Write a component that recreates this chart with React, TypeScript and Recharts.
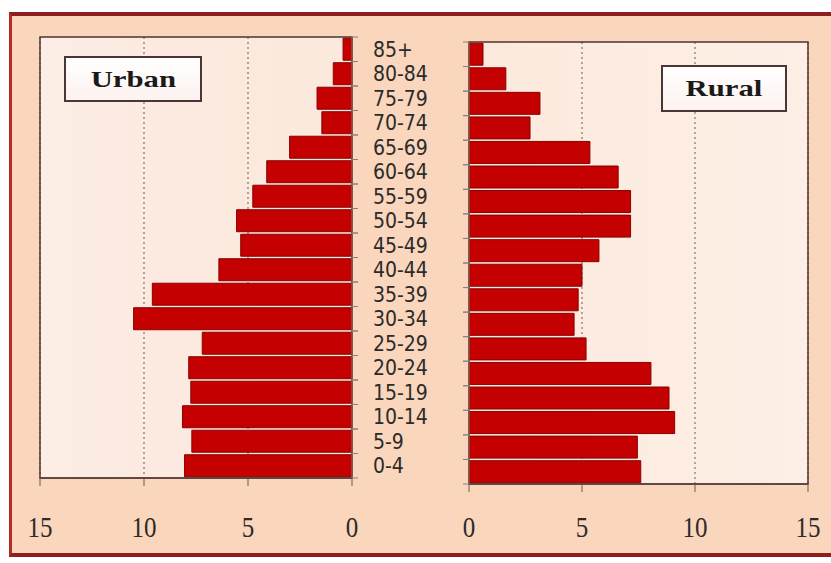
import React from 'react';
import { BarChart, Bar, XAxis, YAxis, CartesianGrid, ReferenceArea } from 'recharts';

const ageGroups = ['0-4', '5-9', '10-14', '15-19', '20-24', '25-29', '30-34', '35-39', '40-44', '45-49', '50-54', '55-59', '60-64', '65-69', '70-74', '75-79', '80-84', '85+'];
const urbanValues = [8.05, 7.7, 8.15, 7.75, 7.85, 7.2, 10.5, 9.6, 6.4, 5.35, 5.55, 4.77, 4.1, 3.0, 1.45, 1.68, 0.9, 0.43];
const ruralValues = [7.6, 7.45, 9.1, 8.85, 8.05, 5.18, 4.65, 4.83, 5.0, 5.75, 7.15, 7.15, 6.6, 5.35, 2.7, 3.14, 1.63, 0.62];
const xTicks = [0, 5, 10, 15];
const panelTitles = ['Urban', 'Rural'];

const data = ageGroups.map((age, i) => ({ age, urban: urbanValues[i], rural: ruralValues[i] }));

const BAR_FILL = '#C40000';
const BAR_STROKE = '#8A0000';
const AXIS_GRAY = '#8a7f78';
const BORDER = '#4d3530';

const NumTick = (props: any) => {
  const { x, y, payload, baseOff } = props;
  return (
    <g transform={`translate(${x},${y + baseOff}) scale(1,1.15)`}>
      <text
        x={0}
        y={0}
        textAnchor="middle"
        fontFamily="'Liberation Serif','Times New Roman',serif"
        fontSize={25}
        fill="#2e2a28"
      >
        {payload.value}
      </text>
    </g>
  );
};

const AgeTickRight = (props: any) => {
  const { x, y, payload } = props;
  const off = payload.offset ?? 12.25;
  return (
    <g>
      <line x1={x} x2={x + 6} y1={y - off} y2={y - off} stroke={AXIS_GRAY} />
      <line x1={x} x2={x + 6} y1={y + off} y2={y + off} stroke={AXIS_GRAY} />
      <text
        x={x + 21}
        y={y}
        dy="0.36em"
        textAnchor="start"
        fontFamily="'DejaVu Sans Condensed','DejaVu Sans',sans-serif"
        fontStretch="condensed"
        fontSize={21}
        fill="#2b2b2b"
      >
        {payload.value}
      </text>
    </g>
  );
};

const AgeTickLeft = (props: any) => {
  const { x, y, payload } = props;
  const off = payload.offset ?? 12.25;
  return (
    <g>
      <line x1={x - 6} x2={x} y1={y - off} y2={y - off} stroke={AXIS_GRAY} />
      <line x1={x - 6} x2={x} y1={y + off} y2={y + off} stroke={AXIS_GRAY} />
    </g>
  );
};

const boxStyle: React.CSSProperties = {
  position: 'absolute',
  boxSizing: 'border-box',
  border: '2px solid #4a3636',
  background: 'linear-gradient(#ffffff, #fdf2ef)',
  fontFamily: "'Liberation Serif','Times New Roman',serif",
  fontWeight: 'bold',
  fontSize: 24,
  color: '#1a1a1a',
  display: 'flex',
  alignItems: 'center',
  justifyContent: 'center',
};

const titleSpan: React.CSSProperties = {
  display: 'inline-block',
  transform: 'scaleX(1.28)',
};

export default function App() {
  return (
    <div style={{ position: 'absolute', left: 0, top: 0, width: 831, height: 563, overflow: 'hidden', background: '#fff' }}>
      <div
        style={{
          position: 'absolute',
          left: 9,
          top: 12,
          width: 860,
          height: 545,
          boxSizing: 'border-box',
          background: '#FAD6BC',
          borderTop: '4px solid #8E1F1F',
          borderLeft: '3px solid #B52A2A',
          borderBottom: '4px solid #8E1F1F',
        }}
      />
      <div style={{ position: 'absolute', left: 0, top: 0 }}>
        <BarChart
          width={440}
          height={545}
          data={data}
          layout="vertical"
          margin={{ top: 37, left: 40, right: 0, bottom: 0 }}
          barCategoryGap="5%"
        >
          <defs>
            <linearGradient id="bgL" x1="0" y1="0" x2="1" y2="0">
              <stop offset="0%" stopColor="#FCEEE6" />
              <stop offset="35%" stopColor="#FCEAE0" />
              <stop offset="100%" stopColor="#FCE9DD" />
            </linearGradient>
          </defs>
          <CartesianGrid horizontal={false} strokeDasharray="2 3" stroke="#6d5a4e" fill="url(#bgL)" fillOpacity={1} />
          <XAxis
            type="number"
            domain={[0, 15]}
            ticks={xTicks}
            reversed
            interval={0}
            height={67}
            tickSize={8}
            tickMargin={0}
            axisLine={{ stroke: '#5a4038', strokeWidth: 1.5 }}
            tickLine={{ stroke: '#6b5a50' }}
            tick={<NumTick baseOff={51} />}
          />
          <YAxis
            type="category"
            dataKey="age"
            orientation="right"
            reversed
            interval={0}
            width={88}
            tickSize={0}
            tickMargin={0}
            axisLine={{ stroke: AXIS_GRAY }}
            tick={<AgeTickRight />}
          />
          <ReferenceArea x1={0} x2={15} fill="none" stroke={BORDER} strokeWidth={1.5} ifOverflow="visible" />
          <Bar dataKey="urban" fill={BAR_FILL} stroke={BAR_STROKE} strokeWidth={1} isAnimationActive={false} />
        </BarChart>
      </div>
      <div style={{ position: 'absolute', left: 460, top: 0 }}>
        <BarChart
          width={371}
          height={545}
          data={data}
          layout="vertical"
          margin={{ top: 42, left: 1, right: 23, bottom: 0 }}
          barCategoryGap="5%"
        >
          <defs>
            <linearGradient id="bgR" x1="0" y1="0" x2="1" y2="0">
              <stop offset="0%" stopColor="#FCE9DD" />
              <stop offset="100%" stopColor="#FDEFE6" />
            </linearGradient>
          </defs>
          <CartesianGrid horizontal={false} strokeDasharray="2 3" stroke="#6d5a4e" fill="url(#bgR)" fillOpacity={1} />
          <XAxis
            type="number"
            domain={[0, 15]}
            ticks={xTicks}
            interval={0}
            height={61}
            tickSize={8}
            tickMargin={0}
            axisLine={{ stroke: '#5a4038', strokeWidth: 1.5 }}
            tickLine={{ stroke: '#6b5a50' }}
            tick={<NumTick baseOff={45} />}
          />
          <YAxis
            type="category"
            dataKey="age"
            orientation="left"
            reversed
            interval={0}
            width={8}
            tickSize={0}
            tickMargin={0}
            axisLine={{ stroke: AXIS_GRAY }}
            tick={<AgeTickLeft />}
          />
          <ReferenceArea x1={0} x2={15} fill="none" stroke={BORDER} strokeWidth={1.5} ifOverflow="visible" />
          <Bar dataKey="rural" fill={BAR_FILL} stroke={BAR_STROKE} strokeWidth={1} isAnimationActive={false} />
        </BarChart>
      </div>
      <div style={{ ...boxStyle, left: 64, top: 56, width: 138, height: 46 }}>
        <span style={titleSpan}>{panelTitles[0]}</span>
      </div>
      <div style={{ ...boxStyle, left: 661, top: 65, width: 126, height: 47 }}>
        <span style={titleSpan}>{panelTitles[1]}</span>
      </div>
    </div>
  );
}
